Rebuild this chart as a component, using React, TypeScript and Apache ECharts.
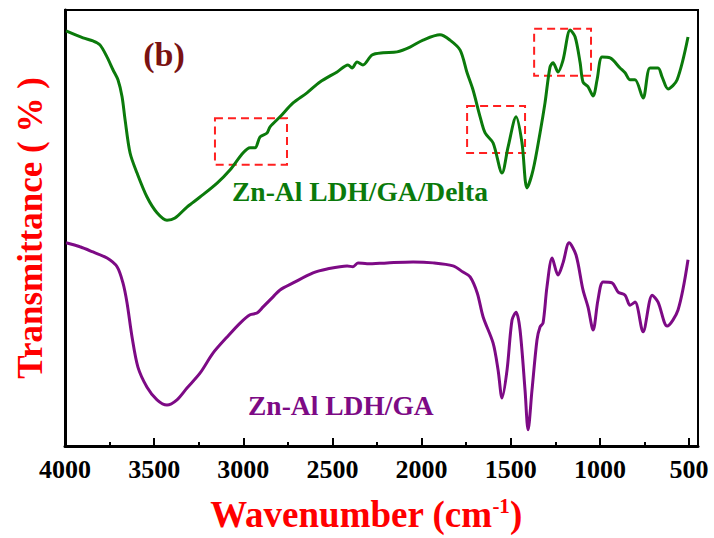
import React, { useEffect, useRef } from "react";
import * as echarts from "echarts";

// Wavenumber (cm-1) and transmittance (arbitrary %, 0–100 span of the plot)
const deltaWn = [3994, 3899, 3843, 3804, 3764, 3731, 3703, 3680, 3663, 3635, 3596, 3540, 3484, 3428, 3383, 3316, 3243, 3147, 3075, 3002, 2962, 2934, 2906, 2867, 2850, 2794, 2721, 2643, 2570, 2474, 2413, 2390, 2362, 2329, 2278, 2216, 2138, 2065, 1992, 1897, 1841, 1784, 1745, 1712, 1672, 1644, 1599, 1549, 1515, 1470, 1437, 1409, 1375, 1336, 1308, 1280, 1263, 1235, 1207, 1167, 1139, 1111, 1095, 1067, 1038, 1016, 988, 943, 887, 859, 831, 803, 758, 719, 674, 651, 618, 567, 506];
const deltaT = [95.2, 93.6, 92.9, 92.0, 89.2, 86.3, 84.0, 80.1, 74.8, 67.2, 62.6, 57.1, 53.5, 51.8, 52.3, 54.8, 57.1, 60.3, 63.3, 67.2, 68.4, 68.4, 70.9, 71.8, 73.2, 75.5, 78.7, 81.0, 83.5, 85.8, 87.4, 86.7, 88.1, 87.4, 89.7, 90.2, 90.4, 91.5, 93.1, 94.3, 93.1, 90.8, 85.6, 81.7, 75.5, 71.8, 69.5, 62.6, 68.6, 75.5, 69.5, 59.2, 63.3, 71.8, 78.7, 86.9, 87.9, 85.8, 88.5, 95.4, 93.8, 87.9, 83.5, 82.4, 80.3, 84.0, 89.2, 89.0, 86.7, 85.6, 84.0, 84.0, 79.8, 86.7, 86.7, 84.6, 81.9, 84.0, 93.8];

const gaWn = [3994, 3916, 3843, 3764, 3708, 3675, 3652, 3624, 3591, 3540, 3484, 3428, 3372, 3316, 3243, 3170, 3091, 3018, 2962, 2923, 2889, 2833, 2794, 2721, 2609, 2530, 2418, 2385, 2357, 2306, 2194, 2048, 1936, 1824, 1768, 1728, 1688, 1655, 1599, 1571, 1549, 1521, 1493, 1470, 1448, 1420, 1403, 1381, 1353, 1336, 1319, 1297, 1268, 1235, 1207, 1173, 1134, 1095, 1067, 1038, 1011, 982, 932, 898, 859, 831, 803, 758, 707, 674, 623, 562, 506];
const gaT = [46.6, 45.7, 44.5, 43.1, 41.1, 37.4, 32.8, 25.0, 18.1, 13.5, 10.6, 9.4, 10.6, 13.3, 16.7, 21.3, 25.0, 28.2, 30.1, 30.5, 31.9, 34.2, 35.8, 37.4, 39.7, 40.6, 41.3, 41.1, 42.0, 41.8, 42.0, 42.2, 42.0, 41.3, 39.9, 38.8, 35.1, 29.6, 23.6, 17.4, 11.0, 17.4, 28.9, 30.7, 26.6, 12.8, 3.7, 12.8, 24.3, 27.3, 28.2, 36.5, 43.1, 39.2, 42.0, 46.6, 43.8, 35.8, 31.9, 26.6, 33.5, 37.6, 37.4, 35.3, 34.6, 32.3, 33.0, 26.2, 34.6, 33.0, 27.5, 31.2, 42.7];

const majorTicks = [4000, 3500, 3000, 2500, 2000, 1500, 1000, 500];
const minorTicks = [3750, 3250, 2750, 2250, 1750, 1250, 750];

// highlighted regions: [wnStart, wnEnd, tLow, tHigh]
const boxes = [
  [3159, 2755, 64.5, 75.2],
  [1745, 1420, 67.2, 78.0],
  [1369, 1050, 84.9, 95.7],
];

const FONT = "'Liberation Serif', 'Times New Roman', serif";

export default function App() {
  const ref = useRef<HTMLDivElement>(null);
  useEffect(() => {
    if (!ref.current) return;
    const chart = echarts.init(ref.current, null, { renderer: "svg" });
    const zip = (a: number[], b: number[]) => a.map((v, i) => [v, b[i]]);
    chart.setOption({
      animation: false,
      grid: {
        left: 65,
        top: 10,
        right: 16,
        bottom: 92,
        show: true,
        borderColor: "#000",
        borderWidth: 2,
        backgroundColor: "transparent",
      },
      xAxis: [
        {
          type: "value",
          min: 450,
          max: 4000,
          inverse: true,
          axisLine: { lineStyle: { color: "#000", width: 3 } },
          axisTick: { inside: true, length: 8, lineStyle: { color: "#000", width: 2 }, customValues: majorTicks },
          axisLabel: {
            customValues: majorTicks,
            formatter: (v: number) => String(v),
            fontFamily: FONT,
            fontWeight: "bold",
            fontSize: 26,
            color: "#000",
            margin: 10,
          },
          splitLine: { show: false },
        },
        {
          type: "value",
          min: 450,
          max: 4000,
          inverse: true,
          position: "bottom",
          axisLine: { show: false },
          axisTick: { inside: true, length: 4, lineStyle: { color: "#000", width: 2 }, customValues: minorTicks },
          axisLabel: { show: false },
          splitLine: { show: false },
        },
      ],
      yAxis: {
        type: "value",
        min: 0,
        max: 100,
        axisLine: { show: true, lineStyle: { color: "#000", width: 3 } },
        axisTick: { show: false },
        axisLabel: { show: false },
        splitLine: { show: false },
      },
      series: [
        {
          name: "Zn-Al LDH/GA/Delta",
          type: "line",
          xAxisIndex: 0,
          data: zip(deltaWn, deltaT),
          smooth: 0.3,
          symbol: "none",
          lineStyle: { color: "#0b7a0b", width: 3 },
          markArea: {
            silent: true,
            itemStyle: { color: "rgba(0,0,0,0)", borderColor: "#ff2020", borderWidth: 2, borderType: [8, 5] },
            data: boxes.map((b) => [{ xAxis: b[0], yAxis: b[3] }, { xAxis: b[1], yAxis: b[2] }]),
          },
        },
        {
          name: "Zn-Al LDH/GA",
          type: "line",
          xAxisIndex: 0,
          data: zip(gaWn, gaT),
          smooth: 0.3,
          symbol: "none",
          lineStyle: { color: "#7d0a85", width: 3 },
        },
      ],
      graphic: [
        {
          type: "text",
          x: 164,
          y: 54,
          style: {
            text: "(b)",
            font: `bold 34px ${FONT}`,
            fill: "#7a1212",
            textAlign: "center",
            textVerticalAlign: "middle",
            align: "center",
            verticalAlign: "middle",
          },
        },
        {
          type: "text",
          x: 232,
          y: 191,
          style: {
            text: "Zn-Al LDH/GA/Delta",
            font: `bold 27.5px ${FONT}`,
            fill: "#0b7a0b",
            textAlign: "left",
            textVerticalAlign: "middle",
            align: "left",
            verticalAlign: "middle",
          },
        },
        {
          type: "text",
          x: 248,
          y: 405,
          style: {
            text: "Zn-Al LDH/GA",
            font: `bold 27.5px ${FONT}`,
            fill: "#7d0a85",
            textAlign: "left",
            textVerticalAlign: "middle",
            align: "left",
            verticalAlign: "middle",
          },
        },
        {
          type: "text",
          x: 366,
          y: 514,
          style: {
            text: "{a|Wavenumber (cm}{s|-1}{a|)}",
            rich: {
              a: { font: `bold 37px ${FONT}`, fill: "#ff0000", color: "#ff0000" },
              s: { font: `bold 21px ${FONT}`, fill: "#ff0000", color: "#ff0000", verticalAlign: "top", padding: [0, 0, 14, 0] },
            },
            textAlign: "center",
            textVerticalAlign: "middle",
            align: "center",
            verticalAlign: "middle",
          },
        },
        {
          type: "text",
          x: 30,
          y: 228,
          rotation: Math.PI / 2,
          style: {
            text: "Transmittance ( % )",
            font: `bold 35px ${FONT}`,
            fill: "#ff0000",
            textAlign: "center",
            textVerticalAlign: "middle",
            align: "center",
            verticalAlign: "middle",
          },
        },
      ],
    });
    return () => chart.dispose();
  }, []);
  return (
    <div
      ref={ref}
      style={{ position: "fixed", left: 0, top: 0, width: 714, height: 538, background: "#fff" }}
    />
  );
}
